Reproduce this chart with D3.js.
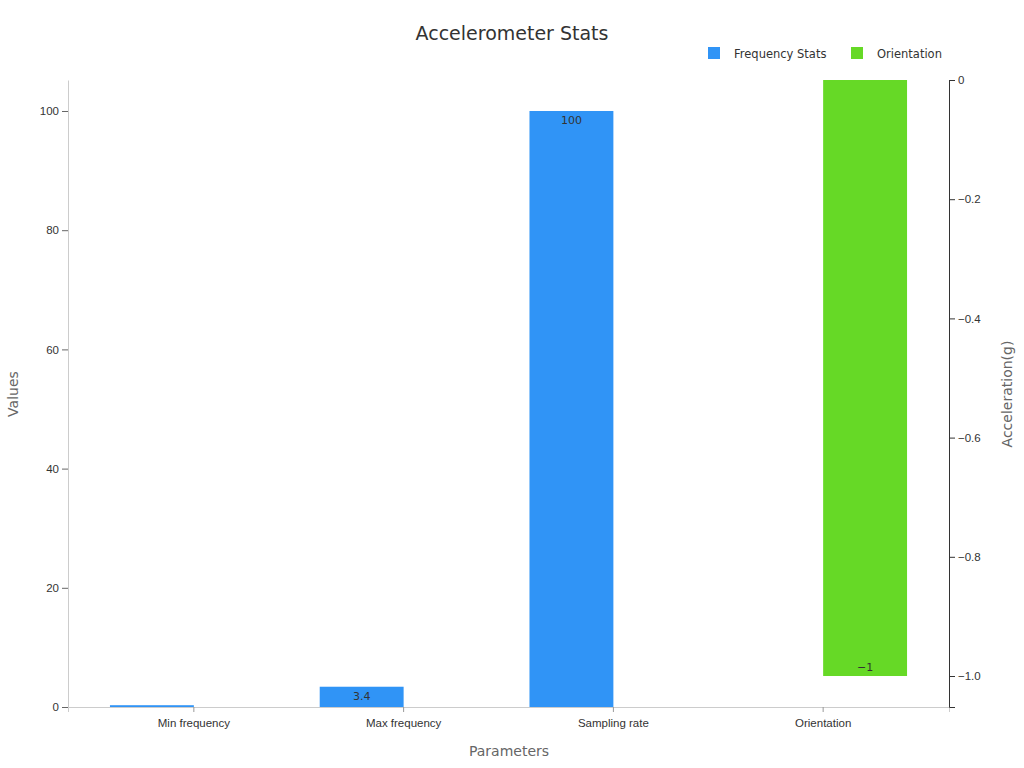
<!DOCTYPE html>
<html><head><meta charset="utf-8">
<script src="https://cdn.jsdelivr.net/npm/d3@7"></script>
<style>body{margin:0;background:#fff;font-family:"DejaVu Sans",sans-serif}</style>
</head><body><svg id="c" width="1024" height="768"></svg>
<script>
const categories = ["Min frequency","Max frequency","Sampling rate","Orientation"];
const freqValues = [0.3, 3.4, 100, null];
const orientValues = [null, null, null, -1];
const leftTicks = [0,20,40,60,80,100];
const rightTicks = [0,-0.2,-0.4,-0.6,-0.8,-1];

const svg = d3.select("#c");
const L=68,R=949,T=80,B=707;
const x = d3.scaleBand().domain(categories).range([L,R]).padding(0.2);
const sub = d3.scaleBand().domain(["f","o"]).range([0,x.bandwidth()]);
const yL = d3.scaleLinear().domain([0,105.2]).range([B,T]);
const yR = d3.scaleLinear().domain([-1.052,0]).range([B,T]);
const blue="#3094f6", green="#66d926";

svg.append("text").attr("x",512).attr("y",40).attr("text-anchor","middle").attr("font-size",19).attr("fill","#333").text("Accelerometer Stats");

const defs=svg.append("defs");
function bars(vals,key,color,scale){
  vals.forEach((v,i)=>{
    if(v==null) return;
    const bx=x(categories[i])+sub(key), w=sub.bandwidth();
    const y0=scale(0), y1=scale(v);
    const top=Math.min(y0,y1), h=Math.abs(y1-y0);
    svg.append("rect").attr("x",bx).attr("y",top).attr("width",w).attr("height",h).attr("fill",color);
    const id="clip"+key+i;
    defs.append("clipPath").attr("id",id).append("rect").attr("x",bx).attr("y",top).attr("width",w).attr("height",h);
    const ly = v>=0 ? top+13 : top+h-5;
    svg.append("text").attr("clip-path",`url(#${id})`).attr("x",bx+w/2).attr("y",ly).attr("text-anchor","middle")
      .attr("font-size",11).attr("fill","#333").text(d3.format("~g")(v));
  });
}
bars(freqValues,"f",blue,yL);
bars(orientValues,"o",green,yR);

const ax=svg.append("g").attr("transform",`translate(0,${B})`).call(d3.axisBottom(x).tickSizeOuter(0).tickSize(5));
ax.select(".domain").attr("stroke","#ccc");
ax.selectAll("line").attr("stroke","#999");
ax.selectAll("text").attr("font-size",11.5).attr("fill","#333").attr("dy","1em");

const al=svg.append("g").attr("transform",`translate(${L},0)`).call(d3.axisLeft(yL).tickValues(leftTicks).tickSizeOuter(0));
al.select(".domain").attr("stroke","#ccc");
al.selectAll("line").attr("stroke","#666");
al.selectAll("text").attr("font-size",11.5).attr("fill","#333");

const ar=svg.append("g").attr("transform",`translate(${R},0)`).call(d3.axisRight(yR).tickValues(rightTicks).tickSizeOuter(6).tickFormat(d=>d===0?"0":d3.format(".1f")(d).replace("-","−")));
ar.select(".domain").attr("stroke","#333");
ar.selectAll("line").attr("stroke","#333");
ar.selectAll("text").attr("font-size",11.5).attr("fill","#333");

svg.append("text").attr("x",509).attr("y",756).attr("text-anchor","middle").attr("font-size",14).attr("fill","#666").text("Parameters");
svg.append("text").attr("transform","translate(18,394) rotate(-90)").attr("text-anchor","middle").attr("font-size",14).attr("fill","#666").text("Values");
svg.append("text").attr("transform","translate(1012,394) rotate(-90)").attr("text-anchor","middle").attr("font-size",14).attr("fill","#666").text("Acceleration(g)");

const leg=[["Frequency Stats",blue,708],["Orientation",green,851]];
leg.forEach(([t,c,lx])=>{
  svg.append("rect").attr("x",lx).attr("y",47).attr("width",12).attr("height",12).attr("fill",c);
  svg.append("text").attr("x",lx+26).attr("y",58).attr("font-size",11.5).attr("fill","#333").text(t);
});
</script></body></html>
